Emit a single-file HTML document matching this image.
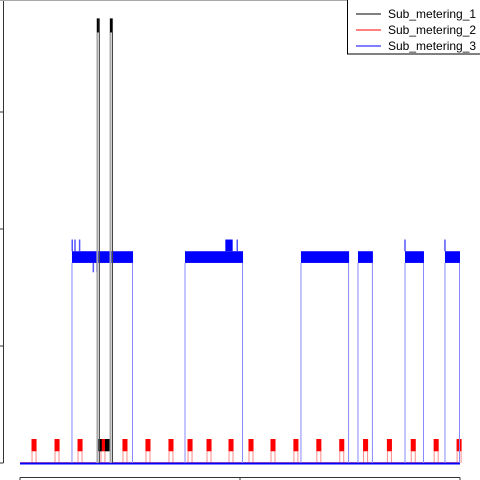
<!DOCTYPE html>
<html><head><meta charset="utf-8"><style>
html,body{margin:0;padding:0;background:#fff;}
svg{display:block;font-family:"Liberation Sans",sans-serif;}
</style></head><body>
<svg id="chart" width="480" height="480" viewBox="0 0 480 480">
<g id="axes"></g>
<g id="plot"></g>
<g>
<rect x="347.5" y="-1" width="134" height="55" fill="#fff" stroke="#000" stroke-width="1"/>
<line x1="356" y1="14" x2="381" y2="14" stroke="#000"/>
<line x1="356" y1="30" x2="381" y2="30" stroke="#f00"/>
<line x1="356" y1="46" x2="381" y2="46" stroke="#00f"/>
<text x="388" y="18" font-size="12">Sub_metering_1</text>
<text x="388" y="34" font-size="12">Sub_metering_2</text>
<text x="388" y="50" font-size="12">Sub_metering_3</text>
</g>
</svg>
<script>
const redPulses = [1.53,4.04,6.55,9.05,11.45,13.96,16.47,18.55,20.62,23.02,25.2,27.6,30.1,32.6,35.1,37.7,40.3,42.9,45.4,47.9];
const redLow = 1.0, redHigh = 2.05, pulseWidth = 0.55;
const blueStarts = [5.67,18.0,30.65,36.87,42.0,46.36];
const blueEnds   = [12.33,24.33,35.9,38.5,44.07,48.0];
const blueLow = [17.1,17.1,17.1,17.1,17.1,17.1];
const blueHigh = [18.1,18.1,18.1,18.1,18.1,18.1];
const raisedStarts = [22.4];
const raisedEnds = [23.2];
const raisedValue = 19.1;
const blueSpikeT = [5.7,6.0,6.5,8.0,8.4,23.7,42.0,46.36];
const blueSpikeV = [19.1,19.1,19.1,16.3,16.3,19.1,19.1,19.1];
const blackSpikes = [8.5,9.93];
const blackValue = 38;
const yTicks = [0,10,20,30];
const xTicks = [0,24,48];

const X = t => 20 + t*440/48;
const Y = v => 463 - v*11.7;
const NS = "http://www.w3.org/2000/svg";
const plot = document.getElementById('plot');
const axes = document.getElementById('axes');
function mk(tag, attrs, parent){const e=document.createElementNS(NS,tag);for(const k in attrs)e.setAttribute(k,attrs[k]);parent.appendChild(e);return e;}

let ya = mk('line',{x1:3.5,y1:0,x2:3.5,y2:Y(0),stroke:'#333'},axes);


yTicks.forEach(v=>{const t=mk('line',{x1:0,y1:Y(v),x2:3.5,y2:Y(v),stroke:'#333'},axes);

});
let xa = mk('line',{x1:X(0),y1:477.5,x2:X(48),y2:477.5,stroke:'#333'},axes);


xTicks.forEach(v=>{const t=mk('line',{x1:X(v),y1:477.5,x2:X(v),y2:480,stroke:'#333'},axes);

});
mk('line',{x1:0,y1:0.5,x2:480,y2:0.5,stroke:'#aaa'},axes);

let rb = mk('line',{x1:X(0),y1:Y(0),x2:X(48),y2:Y(0),stroke:'#f00','stroke-width':1.5},plot);



redPulses.forEach(t=>{
 const g=mk('g',{},plot);
 
 
 mk('rect',{x:X(t)-pulseWidth*9.17/2,y:Y(redHigh),width:pulseWidth*9.17,height:Y(redLow)-Y(redHigh),fill:'#f00'},g);
 mk('line',{x1:X(t)-2,y1:Y(redLow),x2:X(t)-2,y2:Y(0),stroke:'#f88'},g);
 mk('line',{x1:X(t)+2,y1:Y(redLow),x2:X(t)+2,y2:Y(0),stroke:'#f88'},g);
});
[8.7,9.6].forEach(t=>{const r=mk('rect',{x:X(t)-3,y:Y(redHigh),width:5,height:Y(redLow)-Y(redHigh),fill:'#000'},plot);

});

let bb = mk('line',{x1:X(0),y1:Y(0)+0.5,x2:X(48),y2:Y(0)+0.5,stroke:'#00f','stroke-width':2},plot);


blueStarts.forEach((s,i)=>{
 const g=mk('g',{},plot);
 
 
 mk('rect',{x:X(s),y:Y(blueHigh[i]),width:X(blueEnds[i])-X(s),height:Y(blueLow[i])-Y(blueHigh[i]),fill:'#00f'},g);
 mk('line',{x1:X(s),y1:Y(blueLow[i]),x2:X(s),y2:Y(0),stroke:'#88f'},g);
 mk('line',{x1:X(blueEnds[i])-0.5,y1:Y(blueLow[i]),x2:X(blueEnds[i])-0.5,y2:Y(0),stroke:'#88f'},g);
});
raisedStarts.forEach((s,i)=>{const r=mk('rect',{x:X(s),y:Y(raisedValue),width:X(raisedEnds[i])-X(s),height:Y(18.1)-Y(raisedValue),fill:'#00f'},plot);

});
blueSpikeT.forEach((t,i)=>{const v=blueSpikeV[i];const l=mk('line',{x1:X(t),y1:Y(v),x2:X(t),y2:Y(v>17.5?18.1:17.1),stroke:'#55f','stroke-width':1.5},plot);

});

blackSpikes.forEach(t=>{
 const g=mk('g',{},plot);
 
 
 mk('line',{x1:X(t)-0.5,y1:Y(blackValue),x2:X(t)-0.5,y2:Y(0),stroke:'#aaa','stroke-width':2},g);
 mk('line',{x1:X(t)+1.5,y1:Y(blackValue),x2:X(t)+1.5,y2:Y(0),stroke:'#444','stroke-width':1},g);
 mk('line',{x1:X(t),y1:Y(blackValue),x2:X(t),y2:Y(blackValue-1.2),stroke:'#000','stroke-width':2},g);
});
</script>
</body></html>
